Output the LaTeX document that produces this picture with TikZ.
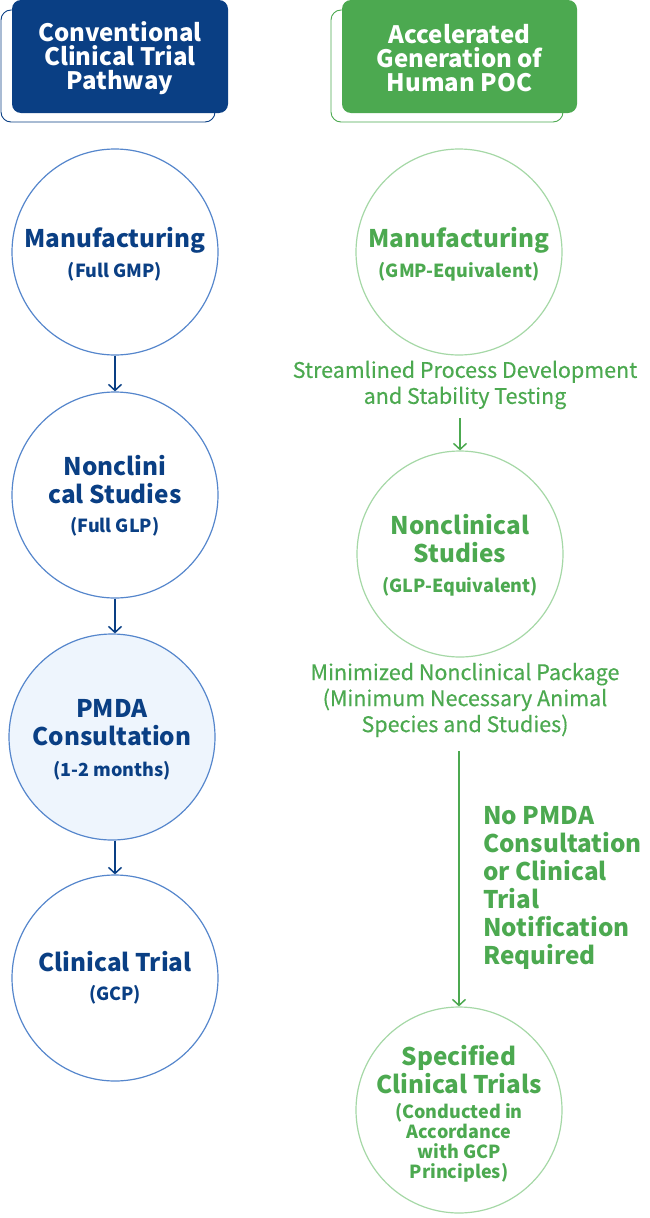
\documentclass[tikz,border=0pt]{standalone}
\usepackage{fontspec}
\setmainfont{Noto Sans CJK JP}
\newfontfamily\medfont{Noto Sans CJK JP}[FakeBold=0.4]
\usetikzlibrary{arrows.meta}
\definecolor{navy}{RGB}{10,63,132}
\definecolor{circblue}{RGB}{85,134,204}
\definecolor{pmdafill}{RGB}{238,245,253}
\definecolor{grn}{RGB}{76,169,80}
\definecolor{lgrn}{RGB}{165,216,166}
\newcommand\subfnt{\bfseries\fontsize{18}{20}\selectfont}
\newcommand\smlfnt{\bfseries\fontsize{18}{20.5}\selectfont}
\begin{document}
\begin{tikzpicture}[x=1pt,y=-1pt,
  circ/.style={circle, minimum size=206pt, inner sep=0pt, line width=1.2pt},
  bcirc/.style={circ, draw=circblue, fill=white},
  gcirc/.style={circ, draw=lgrn, fill=white},
  ttl/.style={font=\bfseries\fontsize{24.3}{28}\selectfont, align=center, inner sep=0pt},
  hdrbox/.style={rounded corners=9pt, minimum height=113pt, inner sep=0pt},
  hdr/.style={font=\bfseries\fontsize{24}{24}\selectfont, text=white, align=center, inner sep=0pt},
  shadowbox/.style={rounded corners=10pt, fill=white, line width=0.9pt},
  glab/.style={font=\medfont\fontsize{21.5}{26}\selectfont, text=grn, align=center, inner sep=0pt},
  barrow/.style={draw=navy, line width=1.6pt, -{Straight Barb[length=6pt,width=13pt,line width=1.5pt]}},
  garrow/.style={draw=grn, line width=1.6pt, -{Straight Barb[length=6pt,width=13pt,line width=1.5pt]}}
]
\useasboundingbox (0,0) rectangle (650,1218);
% headers
\draw[shadowbox, draw=navy] (1,10) rectangle (215,122);
\node[hdrbox, fill=navy, minimum width=216pt] (h1) at (120,56.5) {};
\node[hdr] (h1t) at (120,58) {Conventional\\Clinical Trial\\Pathway};
\draw[shadowbox, draw=grn] (331,10) rectangle (563,122);
\node[hdrbox, fill=grn, minimum width=235pt] (h2) at (459.5,56.5) {};
\node[hdr] (h2t) at (459.5,58) {Accelerated\\Generation of\\Human POC};
% left column
\node[bcirc] (l1) at (115,252) {};
\node[ttl, text=navy] (l1t) at (115,254) {Manufacturing\\[2pt]\subfnt (Full GMP)};
\node[bcirc] (l2) at (115,495) {};
\node[ttl, text=navy] (l2t) at (115,496) {Nonclini\\cal Studies\\[1pt]\subfnt (Full GLP)};
\node[bcirc, fill=pmdafill] (l3) at (112,737) {};
\node[ttl, text=navy] (l3t) at (112,740) {PMDA\\Consultation\\[3pt]\subfnt (1-2 months)};
\node[bcirc] (l4) at (115,978) {};
\node[ttl, text=navy] (l4t) at (115,978) {Clinical Trial\\[1pt]\subfnt (GCP)};
\draw[barrow] (l1.south) -- (l2.north);
\draw[barrow] (l2.south) -- (l3.north -| l2.north);
\draw[barrow] (l3.south -| l4.north) -- (l4.north);
% right column
\node[gcirc] (r1) at (459,252) {};
\node[ttl, text=grn] (r1t) at (459,254) {Manufacturing\\[2pt]\subfnt (GMP-Equivalent)};
\node[glab] (g1) at (465,385) {Streamlined Process Development\\and Stability Testing};
\node[gcirc] (r2) at (460,554) {};
\node[ttl, text=grn] (r2t) at (460,555) {Nonclinical\\Studies\\[2pt]\subfnt (GLP-Equivalent)};
\node[glab] (g2) at (465,700) {Minimized Nonclinical Package\\(Minimum Necessary Animal\\Species and Studies)};
\node[gcirc] (r3) at (459,1110) {};
\node[ttl, text=grn] (r3t) at (459,1114) {Specified\\Clinical Trials\\[-3pt]\smlfnt (Conducted in\\[-8pt]\smlfnt Accordance\\[-8pt]\smlfnt with GCP\\[-8pt]\smlfnt Principles)};
\node[font=\bfseries\fontsize{24.3}{28}\selectfont, text=grn, align=left, anchor=west, inner sep=0pt] (note) at (483,888) {No PMDA\\Consultation\\or Clinical\\Trial\\Notification\\Required};
\draw[garrow, shorten <=9pt] (g1.south -| r2.north) -- (r2.north);
\draw[garrow, shorten <=14pt] (g2.south -| r3.north) -- (r3.north);
\end{tikzpicture}
\end{document}
